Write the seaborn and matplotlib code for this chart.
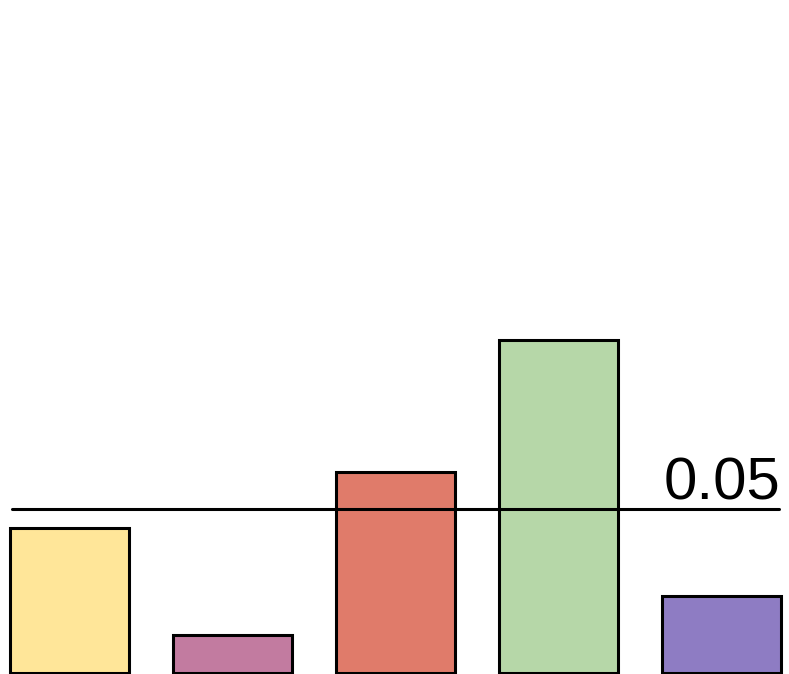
import pandas as pd
import numpy as np
import matplotlib
matplotlib.use("Agg")
import matplotlib.pyplot as plt
import seaborn as sns

# data
groups = ["A", "B", "C", "D", "E"]
values = [0.0442, 0.0116, 0.0613, 0.1015, 0.0235]
colors = ["#FFE699", "#C27BA0", "#E07B6A", "#B6D7A8", "#8E7CC3"]
threshold = 0.05
threshold_label = "0.05"

df = pd.DataFrame({"group": groups, "value": values})

sns.set_style("white")
plt.rcParams["font.family"] = ["Liberation Sans", "DejaVu Sans"]

fig = plt.figure(figsize=(7.89, 6.74), dpi=100)
ax = fig.add_axes([0, 0, 1, 1])

sns.barplot(data=df, x="group", y="value", hue="group", palette=colors,
            width=0.73, edgecolor="black", linewidth=2.2, legend=False,
            saturation=1, ax=ax)

# threshold line over the bars
ax.plot([-0.353, 4.353], [threshold, threshold], color="black", lw=2.2, zorder=5)
ax.annotate(threshold_label, xy=(4.36, threshold), xytext=(0, 6.5),
            textcoords="offset points", ha="right", va="baseline",
            fontsize=43, color="black")

ax.set_xlim(-0.426, 4.414)
ax.set_ylim(-0.0004, 0.205)
ax.axis("off")

fig.savefig("out.png", dpi=100)
